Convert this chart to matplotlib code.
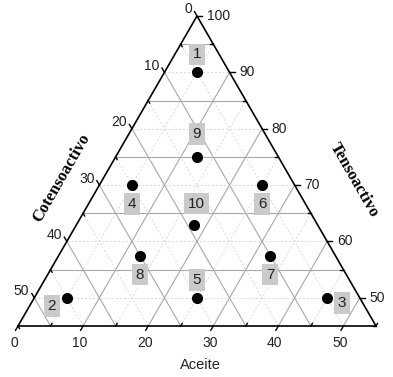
import numpy as np
import matplotlib
matplotlib.use("Agg")
import matplotlib.pyplot as plt

# ---- data (ternary composition, %) ----
point_labels = ["1", "2", "3", "4", "5", "6", "7", "8", "9", "10"]
aceite        = [5, 5, 45, 5, 25, 25, 32.5, 12.5, 12.5, 18]
cotensoactivo = [5, 45, 5, 25, 25, 5, 10, 30, 12.5, 19]
tensoactivo   = [90, 50, 50, 70, 50, 70, 57.5, 57.5, 75, 63]

aceite_ticks = [0, 10, 20, 30, 40, 50]
cotenso_ticks = [0, 10, 20, 30, 40, 50]
tenso_ticks = [50, 60, 70, 80, 90, 100]

T_MIN = 45.0  # lower bound of the tensoactivo axis (zoomed ternary)
S3 = np.sqrt(3) / 2

def xy(a, c, t):
    a = np.asarray(a, float); t = np.asarray(t, float)
    return a + (t - T_MIN) / 2.0, (t - T_MIN) * S3

PX = 6.509  # pixels per unit
fig = plt.figure(figsize=(3.93, 3.77), dpi=100)
ax = fig.add_axes([0, 0, 1, 1])
ax.set_xlim(-18 / PX, (393 - 18) / PX)
ax.set_ylim(-(377 - 326) / PX, 326 / PX)
ax.axis("off")

R = 100 - T_MIN  # 55
major_c = "#a8a8a8"
minor_c = "#dadada"
for v in np.arange(5, R, 5):
    major = (v % 10 == 0)
    kw = dict(color=major_c, lw=0.8, ls="-") if major else dict(color=minor_c, lw=0.7, ls=(0, (2, 2)))
    # constant aceite: bottom edge -> right edge
    x1, y1 = xy(v, R - v, T_MIN); x2, y2 = xy(v, 0, 100 - v)
    ax.plot([x1, x2], [y1, y2], zorder=1, **kw)
    # constant cotensoactivo: bottom edge -> left edge
    x1, y1 = xy(R - v, v, T_MIN); x2, y2 = xy(0, v, 100 - v)
    ax.plot([x1, x2], [y1, y2], zorder=1, **kw)
    # constant tensoactivo (horizontal)
    t = T_MIN + v
    x1, y1 = xy(0, 100 - t, t); x2, y2 = xy(100 - t, 0, t)
    ax.plot([x1, x2], [y1, y2], zorder=1, **kw)

# triangle frame
vx, vy = xy([0, 0, R, 0], [R, 0, 0, R], [T_MIN, 100, T_MIN, T_MIN])
ax.plot(vx, vy, color="black", lw=1.2, zorder=3, solid_joinstyle="miter")

L_MAJ = 5 / PX
L_MIN = 3 / PX
tick_font = dict(family="Liberation Sans", size=10, color="#222222")
d_bot = np.array([-0.5, -S3])
d_left = np.array([-0.5, S3])
d_right = np.array([1.0, 0.0])
for v in np.arange(0, R + 0.1, 5):
    major = (v % 10 == 0)
    # bottom (aceite)
    p = np.array(xy(v, R - v, T_MIN))
    e = p + (d_bot * L_MAJ if major else -d_bot * L_MIN)
    ax.plot([p[0], e[0]], [p[1], e[1]], color="black", lw=1.0, zorder=3)
    # left (cotensoactivo)
    p = np.array(xy(0, v, 100 - v))
    e = p + (d_left * L_MAJ if major else -d_left * L_MIN)
    ax.plot([p[0], e[0]], [p[1], e[1]], color="black", lw=1.0, zorder=3)
    # right (tensoactivo)
    t = T_MIN + v
    p = np.array(xy(100 - t, 0, t))
    if t % 10 == 0:
        e = p + d_right * L_MAJ
    else:
        e = p - d_right * L_MIN
    ax.plot([p[0], e[0]], [p[1], e[1]], color="black", lw=1.0, zorder=3)

for v in aceite_ticks:
    x, y = xy(v, R - v, T_MIN)
    ax.text(x - 0.55, y - 2.6, str(v), ha="center", va="center", **tick_font)
for v in cotenso_ticks:
    x, y = xy(0, v, 100 - v)
    ax.text(x - 0.75, y + 1.0, str(v), ha="right", va="center", **tick_font)
for v in tenso_ticks:
    x, y = xy(100 - v, 0, v)
    ax.text(x + 1.5, y, str(v), ha="left", va="center", **tick_font)

# points
px, py = xy(aceite, cotensoactivo, tensoactivo)
ax.plot(px, py, "o", color="black", ms=7, zorder=5)

# label offsets in pixels (dx right, dy down)
offsets = [(0, -18), (-15, 8), (15, 5), (0, 19), (0, -18),
           (0, 19), (0, 19), (0, 19), (0, -23), (3, -21)]
for lab, x, y, (dx, dy) in zip(point_labels, px, py, offsets):
    ax.text(x + dx / PX, y - dy / PX, lab, ha="center", va="center",
            family="Liberation Sans", size=11, color="#222222", zorder=6,
            bbox=dict(boxstyle="square,pad=0.25", fc="#cacaca", ec="none"))

# axis titles
def pix(xp, yp):
    return (xp - 18) / PX, (326 - yp) / PX

ax.text(*pix(62, 178), "Cotensoactivo", rotation=60, ha="center", va="center",
        family="Liberation Serif", weight="bold", size=12)
ax.text(*pix(354, 180), "Tensoactivo", rotation=-60, ha="center", va="center",
        family="Liberation Serif", weight="bold", size=12)
ax.text(*pix(200, 365), "Aceite", ha="center", va="center",
        family="Liberation Sans", size=10.5, color="#222222")

fig.savefig("out.png", dpi=100)
